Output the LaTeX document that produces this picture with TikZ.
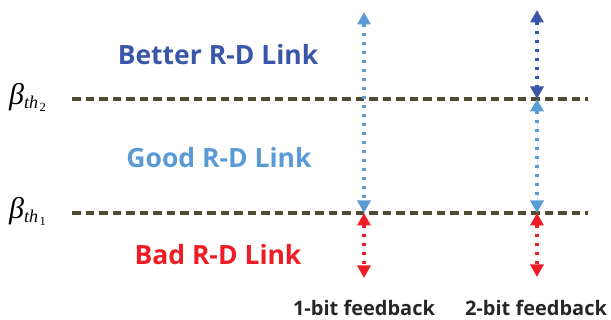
\documentclass[tikz,border=0pt]{standalone}
\usepackage{fontspec}
\setmainfont{Open Sans}
\newfontfamily\serifbeta{Liberation Serif}
\usetikzlibrary{arrows.meta}
\definecolor{lblue}{HTML}{5B9BD5}
\definecolor{dblue}{HTML}{3A56A8}
\definecolor{bred}{HTML}{EE1C25}
\definecolor{olive}{HTML}{4F4A30}
\newcommand{\betalab}[1]{{\serifbeta\itshape\fontsize{30}{34}\selectfont β}%
  \raisebox{-4pt}{\serifbeta\itshape\fontsize{18}{20}\selectfont th}%
  \hspace{1.5pt}\raisebox{-7pt}{\serifbeta\fontsize{12.5}{14}\selectfont #1}}
\begin{document}
\begin{tikzpicture}[x=1pt,y=-1pt,
  thr/.style={draw=olive,line width=3.3pt,dash pattern=on 8.5pt off 5pt},
  fb/.style={line width=3.7pt,dash pattern=on 3.4pt off 5.6pt,
    {Triangle[width=13pt,length=12.5pt]}-{Triangle[width=13pt,length=12.5pt]}},
  lab/.style={font=\fontsize{26.5}{30}\selectfont\bfseries,inner sep=0pt},
  fbl/.style={font=\fontsize{20}{24}\selectfont\bfseries,text=black!85,inner sep=0pt,anchor=base},
  beta/.style={inner sep=0pt,anchor=base west}]
\useasboundingbox (0,0) rectangle (611,320);
% thresholds
\coordinate (t2a) at (72,99);
\coordinate (t2b) at (588,99);
\coordinate (t1a) at (72,213);
\coordinate (t1b) at (588,213);
\draw[thr] (t2a) -- (t2b);
\draw[thr] (t1a) -- (t1b);
\node[beta] (b2) at (9,105) {\betalab{2}};
\node[beta] (b1) at (9,219) {\betalab{1}};
% labels
\node[lab,text=dblue] (better) at (218,55) {Better R-D Link};
\node[lab,text=lblue] (good) at (219,158) {Good R-D Link};
\node[lab,text=bred] (bad) at (218,255) {Bad R-D Link};
\node[fbl] (f1) at (364,316) {1-bit feedback};
\node[fbl] (f2) at (536,316) {2-bit feedback};
% column 1
\coordinate (c1top) at (364,12);
\coordinate (c1mid) at (364,213);
\coordinate (c1bot) at (364,278);
\draw[fb,draw=lblue,fill=lblue] (c1top) -- (c1mid);
\draw[fb,draw=bred,fill=bred] (c1mid) -- (c1bot);
% column 2
\coordinate (c2top) at (537,10);
\coordinate (c2up) at (537,99);
\coordinate (c2mid) at (537,213);
\coordinate (c2bot) at (537,277);
\draw[fb,draw=dblue,fill=dblue] (c2top) -- (c2up);
\draw[fb,draw=lblue,fill=lblue] (c2up) -- (c2mid);
\draw[fb,draw=bred,fill=bred] (c2mid) -- (c2bot);
\end{tikzpicture}
\end{document}
